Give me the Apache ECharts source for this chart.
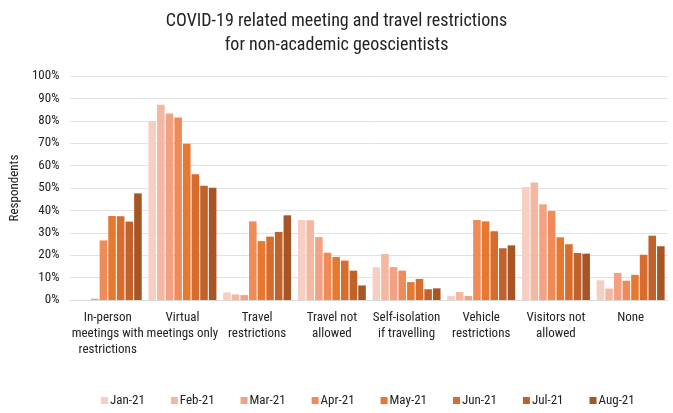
<!DOCTYPE html>
<html>
<head>
<meta charset="utf-8">
<script src="https://cdn.jsdelivr.net/npm/echarts@6/dist/echarts.min.js"></script>
<style>html,body{margin:0;padding:0;background:#fff}#c{width:673px;height:413px}</style>
</head>
<body>
<div id="c"></div>
<script>
var categories = ['In-person\nmeetings with\nrestrictions', 'Virtual\nmeetings only', 'Travel\nrestrictions', 'Travel not\nallowed', 'Self-isolation\nif travelling', 'Vehicle\nrestrictions', 'Visitors not\nallowed', 'None'];
var seriesNames = ['Jan-21', 'Feb-21', 'Mar-21', 'Apr-21', 'May-21', 'Jun-21', 'Jul-21', 'Aug-21'];
var jan21 = [0, 79.9, 3.4, 35.7, 14.6, 1.9, 50.4, 8.8];
var feb21 = [0, 87.2, 2.5, 35.6, 20.5, 3.6, 52.5, 5.1];
var mar21 = [0.6, 83.3, 2.2, 28.1, 14.7, 1.8, 42.7, 12.1];
var apr21 = [26.6, 81.5, 35.1, 21.1, 13.1, 35.7, 39.7, 8.6];
var may21 = [37.5, 69.8, 26.3, 19.2, 8.0, 35.1, 28.0, 11.2];
var jun21 = [37.4, 56.1, 28.3, 17.6, 9.4, 30.7, 24.9, 20.2];
var jul21 = [35.0, 51.0, 30.4, 13.1, 4.8, 23.1, 21.0, 28.7];
var aug21 = [47.6, 50.1, 37.8, 6.5, 5.2, 24.4, 20.7, 24.0];
var yTicks = [0, 10, 20, 30, 40, 50, 60, 70, 80, 90, 100];

var values = [jan21, feb21, mar21, apr21, may21, jun21, jul21, aug21];
var colors = ['#f6cfc2', '#f4b7a0', '#f2a283', '#ee8b58', '#e6782f', '#d86c2c', '#c0622a', '#a85526'];
var FONT = "'Roboto Condensed', 'Liberation Sans Narrow', Roboto, sans-serif";

var chart = echarts.init(document.getElementById('c'));
chart.setOption({
  animation: false,
  textStyle: { fontFamily: FONT },
  title: {
    text: 'COVID-19 related meeting and travel restrictions\nfor non-academic geoscientists',
    left: 'center', top: 4,
    textStyle: { fontFamily: FONT, fontSize: 18, fontWeight: 'normal', color: '#222', lineHeight: 24 }
  },
  legend: {
    bottom: 1, left: 96,
    itemWidth: 7, itemHeight: 7, itemGap: 26,
    icon: 'rect',
    textStyle: { fontFamily: FONT, fontSize: 13, color: '#222', padding: [0, 0, 0, -3] },
    data: seriesNames
  },
  grid: { left: 67, right: 5, top: 76, bottom: 113 },
  xAxis: {
    type: 'category', data: categories,
    axisTick: { show: false },
    axisLine: { lineStyle: { color: '#d9d9d9' } },
    axisLabel: { interval: 0, color: '#222', fontSize: 13, lineHeight: 16, margin: 10, fontFamily: FONT }
  },
  yAxis: {
    type: 'value', min: yTicks[0], max: yTicks[yTicks.length - 1], interval: 10,
    name: 'Respondents', nameLocation: 'middle', nameGap: 46, nameRotate: 90,
    nameTextStyle: { fontFamily: FONT, fontSize: 13, color: '#222' },
    axisLabel: { formatter: '{value}%', color: '#222', fontSize: 13, margin: 11, fontFamily: FONT },
    splitLine: { lineStyle: { color: '#e2e2e2', width: 1 } },
    axisLine: { show: false }, axisTick: { show: false }
  },
  series: seriesNames.map(function (n, i) {
    return {
      name: n, type: 'bar', data: values[i],
      barGap: '14%', barCategoryGap: '9%',
      itemStyle: { color: colors[i] }
    };
  })
});
</script>
</body>
</html>
